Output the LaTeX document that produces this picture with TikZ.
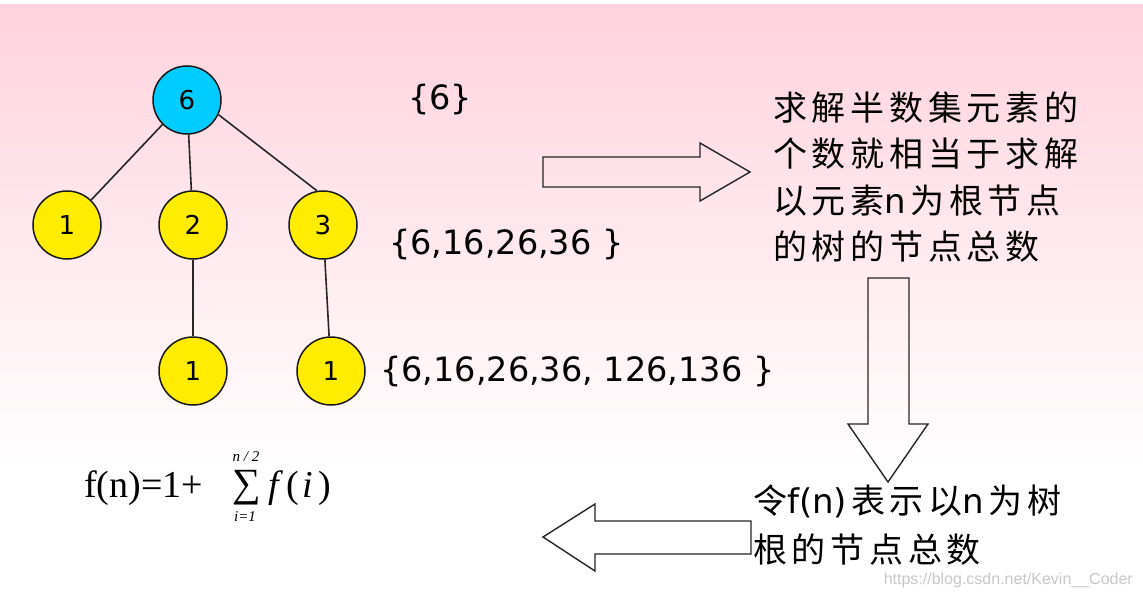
\documentclass[tikz,border=0pt]{standalone}
\usepackage{fontspec}
\setmainfont{DejaVu Sans}
\newfontfamily\cjk[LetterSpace=14]{Noto Sans CJK SC}
\newfontfamily\serifform{Liberation Serif}
\newfontfamily\markfont{Liberation Sans}
\newcommand\lat[1]{{\rmfamily #1}}
\definecolor{rootblue}{RGB}{0,204,255}
\definecolor{leafyellow}{RGB}{255,236,0}
\definecolor{bgpink}{RGB}{255,210,221}
\definecolor{markgray}{RGB}{200,200,200}
\tikzset{
  treenode/.style={circle, draw=black!90, line width=1.5pt, minimum size=68pt,
    inner sep=0pt, font=\fontsize{26}{30}\selectfont},
  treeedge/.style={draw=black!85, line width=1.6pt},
  setlabel/.style={font=\fontsize{33.5}{38}\selectfont, anchor=west, inner sep=0pt},
  cjktext/.style={font=\cjk\fontsize{34}{40}\selectfont, anchor=base west, inner sep=0pt},
  hollowarrow/.style={draw=black!85, line width=1.4pt, line join=miter},
  formtext/.style={font=\serifform\fontsize{38}{42}\selectfont, inner sep=0pt},
  limtext/.style={font=\serifform\itshape\fontsize{15}{17}\selectfont, inner sep=0pt},
}
\begin{document}
\begin{tikzpicture}[x=1pt, y=-1pt]
  % background
  \fill[white] (0,0) rectangle (1143,597);
  \shade[top color=bgpink, bottom color=white] (0,4) rectangle (1143,470);
  \useasboundingbox (0,0) rectangle (1143,597);

  % tree
  \node[treenode, fill=rootblue] (n6) at (187,100) {6};
  \node[treenode, fill=leafyellow] (n1a) at (67,225) {1};
  \node[treenode, fill=leafyellow] (n2) at (193,225) {2};
  \node[treenode, fill=leafyellow] (n3) at (323,225) {3};
  \node[treenode, fill=leafyellow] (n21) at (193,371) {1};
  \node[treenode, fill=leafyellow] (n31) at (331,371) {1};
  \draw[treeedge] (n6.225) -- (n1a.46);
  \draw[treeedge] (n6) -- (n2);
  \draw[treeedge] (n6.-25) -- (n3.100);
  \draw[treeedge] (n2) -- (n21);
  \draw[treeedge] (n3) -- (n31);

  % sets
  \node[setlabel] (set1) at (408,100) {\{6\}};
  \node[setlabel] (set2) at (389,245) {\{6,16,26,36 \}};
  \node[setlabel] (set3) at (380,372) {\{6,16,26,36, 126,136 \}};

  % hollow arrows
  \draw[hollowarrow] (543,157) -- (700,157) -- (700,143) -- (750,172)
    -- (700,201) -- (700,187) -- (543,187) -- cycle;
  \draw[hollowarrow] (868,278) -- (909,278) -- (909,424) -- (928,424)
    -- (888,482) -- (848,424) -- (868,424) -- cycle;
  \draw[hollowarrow] (751,521) -- (595,521) -- (595,504) -- (543,537)
    -- (595,571) -- (595,554) -- (751,554) -- cycle;

  % explanation
  \foreach \ln [count=\i] in {求解半数集元素的, 个数就相当于求解, 以元素\lat{n}\hspace{4pt}为根节点, 的树的节点总数}
    \node[cjktext] (expl\i) at (773, {120+46.5*(\i-1)}) {\ln};
  \node[cjktext] (fdef1) at (753,513) {令\lat{f(n)}\hspace{4pt}表示以\lat{n}\hspace{4pt}为树};
  \node[cjktext] (fdef2) at (753,562) {根的节点总数};

  % formula
  \node[formtext, anchor=base west] (fexpr) at (84,497) {f(n)=1+};
  \node[formtext, font=\serifform\fontsize{40}{44}\selectfont] (sigma) at (247,488) {∑};
  \node[limtext] (upper) at (246,457) {n / 2};
  \node[limtext] (lower) at (245,517) {i=1};
  \node[formtext, anchor=base west] (fsum) at (268,497)
    {\itshape f\hspace{8pt}\upshape(\hspace{3pt}\itshape i\hspace{6pt}\upshape)};

  % watermark
  \node[anchor=base east, inner sep=0pt, text=markgray, font=\markfont\fontsize{16}{18}\selectfont] (mark) at (1133,584) {https://blog.csdn.net/Kevin\_\_Coder};
\end{tikzpicture}
\end{document}
